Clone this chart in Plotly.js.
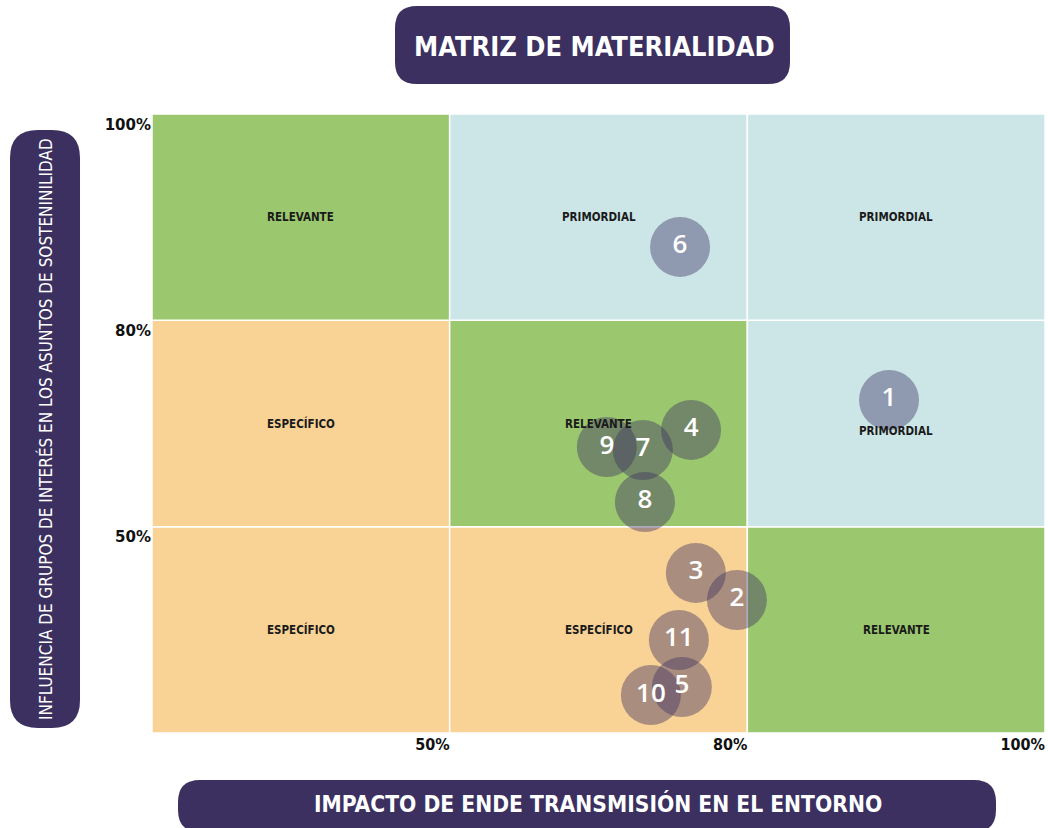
<!DOCTYPE html>
<html>
<head>
<meta charset="utf-8">
<script src="https://cdn.plot.ly/plotly-3.0.1.min.js"></script>
<style>html,body{margin:0;padding:0;background:#fff;}#chart{width:1048px;height:828px;}</style>
</head>
<body>
<div id="chart"></div>
<script>
// ---- data ----
var issueIds = ['1','2','3','4','5','6','7','8','9','10','11'];
var impactPos = [2.476, 1.965, 1.827, 1.811, 1.780, 1.774, 1.649, 1.656, 1.528, 1.676, 1.770];
var influencePos = [1.614, 0.645, 0.776, 1.469, 0.223, 2.356, 1.372, 1.120, 1.386, 0.184, 0.451];
var xTickVals = [1, 2, 3];
var xTickText = ['50%', '80%', '100%'];
var yTickVals = [1, 2, 3];
var yTickText = ['50%', '80%', '100%'];
// cell labels, rows from bottom to top
var cellLabels = [
  ['ESPECÍFICO', 'ESPECÍFICO', 'RELEVANTE'],
  ['ESPECÍFICO', 'RELEVANTE', 'PRIMORDIAL'],
  ['RELEVANTE', 'PRIMORDIAL', 'PRIMORDIAL']
];
var cellKinds = [
  ['E', 'E', 'R'],
  ['E', 'R', 'P'],
  ['R', 'P', 'P']
];

// ---- styles ----
var kindColor = {E: '#f9d296', R: '#9bc86e', P: '#cce6e8'};
var purple = '#3b3060';
var narrow = '"DejaVu Sans Condensed", "Liberation Sans Narrow", sans-serif';

var L = 152, T = 114, W = 893, H = 619;
function pxX(x) { return (x - L) / W; }
function pxY(y) { return (T + H - y) / H; }
function roundRect(x0, y0, x1, y1, r) {
  var p = [];
  p.push('M', pxX(x0 + r), pxY(y0));
  p.push('L', pxX(x1 - r), pxY(y0));
  p.push('Q', pxX(x1), pxY(y0), pxX(x1), pxY(y0 + r));
  p.push('L', pxX(x1), pxY(y1 - r));
  p.push('Q', pxX(x1), pxY(y1), pxX(x1 - r), pxY(y1));
  p.push('L', pxX(x0 + r), pxY(y1));
  p.push('Q', pxX(x0), pxY(y1), pxX(x0), pxY(y1 - r));
  p.push('L', pxX(x0), pxY(y0 + r));
  p.push('Q', pxX(x0), pxY(y0), pxX(x0 + r), pxY(y0));
  p.push('Z');
  return p.join(' ');
}

var shapes = [];
var annotations = [];
for (var r = 0; r < 3; r++) {
  for (var c = 0; c < 3; c++) {
    shapes.push({
      type: 'rect', xref: 'x', yref: 'y', x0: c, x1: c + 1, y0: r, y1: r + 1,
      fillcolor: kindColor[cellKinds[r][c]], line: {color: '#ffffff', width: 1.5}, layer: 'below'
    });
    annotations.push({
      xref: 'x', yref: 'y', x: c + 0.5, y: (r === 1 && c === 2) ? r + 0.465 : r + 0.5,
      text: '<b>' + cellLabels[r][c] + '</b>', showarrow: false,
      font: {family: narrow, size: 11.5, color: '#1a1a1a'}
    });
  }
}

// title boxes
shapes.push({type: 'path', xref: 'paper', yref: 'paper', path: roundRect(395, 6, 790, 84, 22), fillcolor: purple, line: {width: 0}});
shapes.push({type: 'path', xref: 'paper', yref: 'paper', path: roundRect(178, 780, 996, 832, 22), fillcolor: purple, line: {width: 0}});
shapes.push({type: 'path', xref: 'paper', yref: 'paper', path: roundRect(10, 130, 80, 728, 28), fillcolor: purple, line: {width: 0}});

annotations.push({xref: 'paper', yref: 'paper', x: pxX(594), y: pxY(46), text: '<b>MATRIZ DE MATERIALIDAD</b>', showarrow: false,
  font: {family: narrow, size: 27, color: '#ffffff'}, xanchor: 'center', yanchor: 'middle'});
annotations.push({xref: 'paper', yref: 'paper', x: pxX(598), y: pxY(803), text: '<b>IMPACTO DE ENDE TRANSMISIÓN EN EL ENTORNO</b>', showarrow: false,
  font: {family: narrow, size: 22.6, color: '#ffffff'}, xanchor: 'center', yanchor: 'middle'});
annotations.push({xref: 'paper', yref: 'paper', x: pxX(45), y: pxY(429), text: 'INFLUENCIA DE GRUPOS DE INTERÉS EN LOS ASUNTOS DE SOSTENINILIDAD', showarrow: false,
  textangle: -90, font: {family: narrow, size: 17, color: '#ffffff'}, xanchor: 'center', yanchor: 'middle'});

var trace = {
  type: 'scatter', mode: 'markers+text',
  x: impactPos, y: influencePos, text: issueIds,
  textposition: 'middle center',
  textfont: {family: '"Open Sans", "Noto Sans", sans-serif', size: 26, color: '#ffffff', weight: 600},
  marker: {size: 60, color: 'rgba(59,48,96,0.42)', line: {width: 0}},
  hoverinfo: 'skip', cliponaxis: false
};

var layout = {
  width: 1048, height: 828,
  margin: {l: L, r: 1048 - L - W, t: T, b: 828 - T - H},
  paper_bgcolor: '#ffffff', plot_bgcolor: '#ffffff',
  showlegend: false,
  xaxis: {range: [0, 3], tickvals: xTickVals, ticktext: xTickText, showgrid: false, zeroline: false,
    showline: false, ticks: '', ticklabelposition: 'outside left',
    tickfont: {family: narrow, size: 16, color: '#111111', weight: 'bold'}, fixedrange: true},
  yaxis: {range: [0, 3], tickvals: yTickVals, ticktext: yTickText, showgrid: false, zeroline: false,
    showline: false, ticks: '', ticklabelposition: 'outside bottom',
    tickfont: {family: '"DejaVu Sans", sans-serif', size: 15, color: '#111111', weight: 'bold'}, fixedrange: true},
  shapes: shapes,
  annotations: annotations
};

Plotly.newPlot('chart', [trace], layout, {displayModeBar: false, staticPlot: true});
</script>
</body>
</html>
